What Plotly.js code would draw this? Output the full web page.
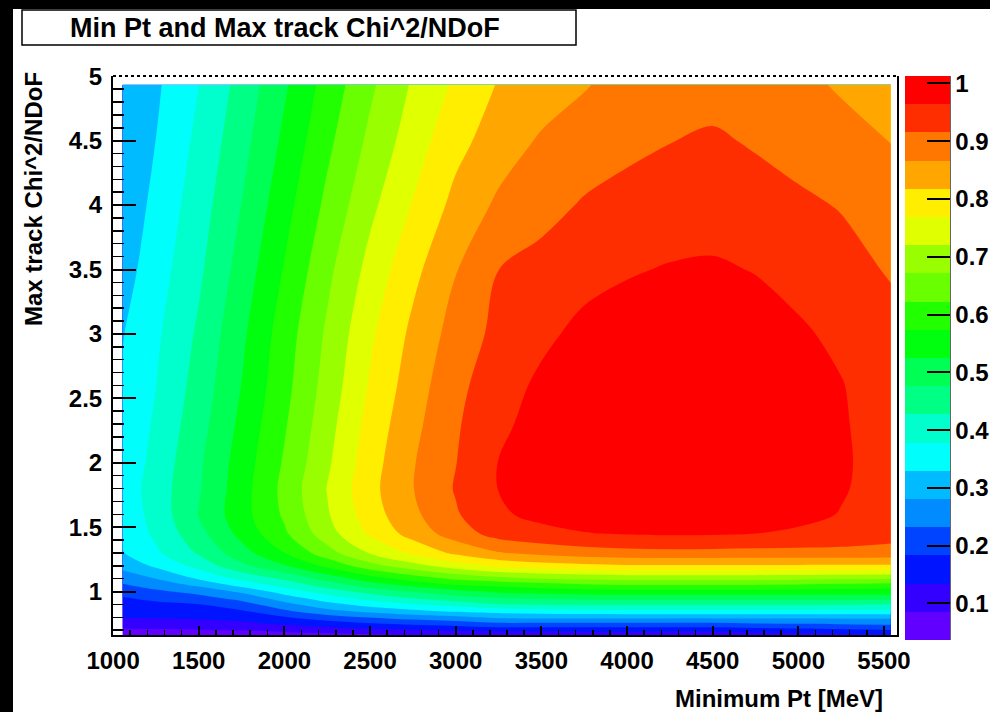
<!DOCTYPE html>
<html><head><meta charset="utf-8">
<script src="https://cdn.plot.ly/plotly-3.0.1.min.js"></script>
<style>
html,body{margin:0;padding:0;background:#000;width:990px;height:712px;overflow:hidden;}
#plot{position:absolute;left:13px;top:9px;width:977px;height:703px;background:#fff;}
</style></head><body><div id="plot"></div>
<script>
// Minimum Pt [MeV] (bin centres)
const minPt = [1055, 1250, 1500, 1750, 2000, 2250, 2500, 2750, 3000, 3250, 3500, 3750, 4000, 4250, 4500, 4750, 5000, 5250, 5540];
// Max track Chi^2/NDoF (bin centres)
const maxChi2 = [0.663, 0.70, 0.75, 0.80, 0.85, 0.90, 0.95, 1.0, 1.05, 1.1, 1.2, 1.3, 1.45, 1.6, 1.8, 2.0, 2.3, 2.6, 3.0, 3.5, 4.0, 4.5, 4.935];
// efficiency, one row per maxChi2 value
const eff = [
 [0.054,0.057,0.060,0.062,0.064,0.072,0.080,0.087,0.092,0.090,0.095,0.097,0.098,0.092,0.095,0.105,0.112,0.122,0.134],
 [0.077,0.080,0.083,0.087,0.097,0.110,0.122,0.131,0.140,0.150,0.150,0.151,0.152,0.150,0.152,0.158,0.165,0.172,0.180],
 [0.108,0.111,0.116,0.122,0.141,0.160,0.178,0.192,0.204,0.222,0.222,0.222,0.222,0.222,0.222,0.228,0.232,0.236,0.240],
 [0.136,0.138,0.142,0.155,0.180,0.211,0.234,0.253,0.268,0.290,0.292,0.292,0.292,0.292,0.292,0.292,0.292,0.292,0.292],
 [0.151,0.156,0.162,0.180,0.225,0.266,0.296,0.319,0.339,0.350,0.360,0.365,0.369,0.369,0.369,0.369,0.369,0.369,0.370],
 [0.166,0.173,0.182,0.210,0.265,0.313,0.348,0.375,0.398,0.425,0.430,0.433,0.433,0.433,0.433,0.433,0.433,0.430,0.425],
 [0.180,0.195,0.213,0.250,0.305,0.358,0.398,0.429,0.456,0.476,0.485,0.492,0.496,0.496,0.496,0.496,0.496,0.498,0.500],
 [0.202,0.223,0.249,0.290,0.352,0.400,0.445,0.479,0.509,0.535,0.545,0.550,0.554,0.554,0.554,0.554,0.554,0.552,0.550],
 [0.226,0.252,0.290,0.345,0.396,0.449,0.499,0.538,0.572,0.583,0.600,0.612,0.620,0.622,0.622,0.620,0.615,0.608,0.600],
 [0.252,0.281,0.335,0.390,0.436,0.495,0.550,0.593,0.630,0.655,0.670,0.680,0.685,0.685,0.685,0.685,0.682,0.678,0.675],
 [0.296,0.338,0.395,0.465,0.520,0.586,0.652,0.702,0.746,0.780,0.795,0.805,0.812,0.812,0.812,0.812,0.812,0.811,0.810],
 [0.327,0.370,0.433,0.505,0.573,0.651,0.724,0.779,0.828,0.863,0.880,0.893,0.900,0.902,0.901,0.900,0.900,0.900,0.898],
 [0.340,0.388,0.460,0.540,0.615,0.699,0.777,0.837,0.890,0.935,0.952,0.962,0.967,0.970,0.969,0.964,0.957,0.948,0.933],
 [0.346,0.396,0.478,0.555,0.630,0.715,0.795,0.856,0.910,0.958,0.975,0.985,0.990,0.993,0.993,0.988,0.977,0.962,0.940],
 [0.350,0.401,0.471,0.553,0.636,0.722,0.803,0.865,0.919,0.965,0.985,0.995,1.000,1.003,1.003,0.998,0.987,0.968,0.945],
 [0.343,0.395,0.468,0.548,0.628,0.712,0.797,0.863,0.914,0.965,0.985,0.995,1.000,1.003,1.003,0.998,0.988,0.970,0.945],
 [0.338,0.386,0.457,0.537,0.617,0.701,0.787,0.853,0.909,0.956,0.978,0.990,0.997,1.000,1.000,0.995,0.985,0.968,0.945],
 [0.335,0.378,0.447,0.526,0.607,0.690,0.774,0.843,0.901,0.946,0.972,0.985,0.993,0.997,0.997,0.992,0.982,0.966,0.940],
 [0.327,0.370,0.435,0.515,0.598,0.679,0.760,0.829,0.886,0.929,0.955,0.975,0.985,0.990,0.990,0.985,0.970,0.955,0.935],
 [0.309,0.356,0.418,0.496,0.577,0.659,0.736,0.804,0.864,0.915,0.932,0.950,0.960,0.967,0.970,0.962,0.950,0.935,0.910],
 [0.295,0.343,0.404,0.477,0.556,0.634,0.708,0.772,0.832,0.875,0.898,0.920,0.932,0.940,0.942,0.936,0.925,0.912,0.895],
 [0.290,0.330,0.390,0.459,0.535,0.611,0.682,0.745,0.802,0.842,0.872,0.888,0.903,0.914,0.922,0.910,0.895,0.880,0.865],
 [0.285,0.322,0.378,0.445,0.518,0.593,0.662,0.726,0.777,0.821,0.842,0.863,0.883,0.893,0.896,0.889,0.876,0.862,0.845]
];
// palette colours, one per contour band (low -> high)
const bandColors = ['rgb(98,0,255)','rgb(51,0,255)','rgb(0,20,255)','rgb(0,68,255)','rgb(0,139,255)',
 'rgb(0,187,255)','rgb(0,255,252)','rgb(0,255,204)','rgb(0,255,133)','rgb(0,255,85)',
 'rgb(0,255,14)','rgb(34,255,0)','rgb(105,255,0)','rgb(153,255,0)','rgb(224,255,0)',
 'rgb(255,238,0)','rgb(255,167,0)','rgb(255,119,0)','rgb(255,46,0)','rgb(255,0,0)'];
const zLow = 0.0368, zStep = 0.0488, nBands = 20;
const cbTicks = [0.1,0.2,0.3,0.4,0.5,0.6,0.7,0.8,0.9,1];
const cbText = ['0.1','0.2','0.3','0.4','0.5','0.6','0.7','0.8','0.9','1'];
const zHigh = zLow + nBands * zStep;

// contour fill colour map: band k midpoint -> colour k
const nLev = nBands + 1;
const contourScale = [[0, bandColors[0]]];
bandColors.forEach((c, k) => contourScale.push([(k + 1) / nLev, c]));
contourScale.push([1, bandColors[nBands - 1]]);
// stepped scale for the palette bar
const stepScale = [];
bandColors.forEach((c, k) => { stepScale.push([k / nBands, c]); stepScale.push([(k + 1) / nBands, c]); });

const F = 'Liberation Sans, Arial, Helvetica, sans-serif';
const bold = (s) => ({family: F, size: s, color: '#000', weight: 700});

// pixel helpers within the 977x703 div, plot area l=100 t=67 w=784 h=559
const px = (x) => (x - 100) / 784;
const py = (y) => 1 - (y - 67) / 559;

const contour = {
  type: 'contour', x: minPt, y: maxChi2, z: eff,
  autocontour: false,
  contours: {start: zLow, end: zHigh, size: zStep, coloring: 'fill', showlines: false},
  line: {width: 0},
  colorscale: contourScale,
  showscale: false,
  hoverinfo: 'skip'
};

// transparent copy of the same data, only used to draw the palette bar
const palette = {
  type: 'heatmap', x: minPt, y: maxChi2, z: eff, opacity: 0,
  zmin: zLow, zmax: zHigh, colorscale: stepScale, hoverinfo: 'skip',
  colorbar: {
    x: px(892), xanchor: 'left', y: 1, yanchor: 'top',
    len: (631 - 67) / 559, lenmode: 'fraction',
    thickness: 45, thicknessmode: 'pixels', xpad: 0, ypad: 0,
    outlinewidth: 0,
    ticks: 'inside', ticklen: 23, tickwidth: 2, tickcolor: '#000',
    tickvals: cbTicks, ticktext: cbText, tickfont: bold(24)
  }
};

const layout = {
  width: 977, height: 703,
  margin: {l: 100, r: 93, t: 67, b: 77, autoexpand: false},
  paper_bgcolor: '#fff', plot_bgcolor: '#fff',
  showlegend: false,
  xaxis: {
    range: [999.5, 5576], tick0: 1000, dtick: 500, ticks: 'inside', ticklen: 9, tickwidth: 2, tickcolor: '#000',
    minor: {ticks: 'inside', dtick: 100, ticklen: 5, tickwidth: 1.5, tickcolor: '#000'},
    showline: true, linecolor: '#000', linewidth: 2, mirror: false,
    showgrid: false, zeroline: false, tickfont: bold(24), ticklabelstandoff: 3
  },
  yaxis: {
    range: [0.663, 5.002], tick0: 0, dtick: 0.5, ticks: 'inside', ticklen: 23, tickwidth: 2, tickcolor: '#000',
    minor: {ticks: 'inside', dtick: 0.1, ticklen: 11, tickwidth: 1.5, tickcolor: '#000'},
    showline: true, linecolor: '#000', linewidth: 2, mirror: true,
    showgrid: false, zeroline: false, tickfont: bold(24), ticklabelstandoff: 4
  },
  shapes: [
    {type: 'rect', xref: 'paper', yref: 'paper', x0: px(9), x1: px(563), y0: py(36), y1: py(1),
     line: {color: '#000', width: 1.5}, fillcolor: '#fff'},
    {type: 'line', xref: 'paper', yref: 'paper', x0: 0, x1: 1, y0: 1, y1: 1,
     line: {color: '#000', width: 2, dash: 'dot'}},
    {type: 'line', xref: 'paper', yref: 'paper', x0: px(937), x1: px(937), y0: py(631), y1: 1,
     line: {color: '#333', width: 1.5}}
  ],
  annotations: [
    {text: 'Min Pt and Max track Chi^2/NDoF', xref: 'paper', yref: 'paper', x: px(272), y: py(19),
     xanchor: 'center', yanchor: 'middle', showarrow: false, font: bold(27)},
    {text: 'Minimum Pt [MeV]', xref: 'paper', yref: 'paper', x: px(872), y: py(689),
     xanchor: 'right', yanchor: 'middle', showarrow: false, font: bold(24)},
    {text: 'Max track Chi^2/NDoF', xref: 'paper', yref: 'paper', x: px(21), y: py(61),
     xanchor: 'center', yanchor: 'top', textangle: -90, showarrow: false, font: bold(24)}
  ]
};

Plotly.newPlot('plot', [palette, contour], layout, {displayModeBar: false, staticPlot: true});
</script></body></html>
